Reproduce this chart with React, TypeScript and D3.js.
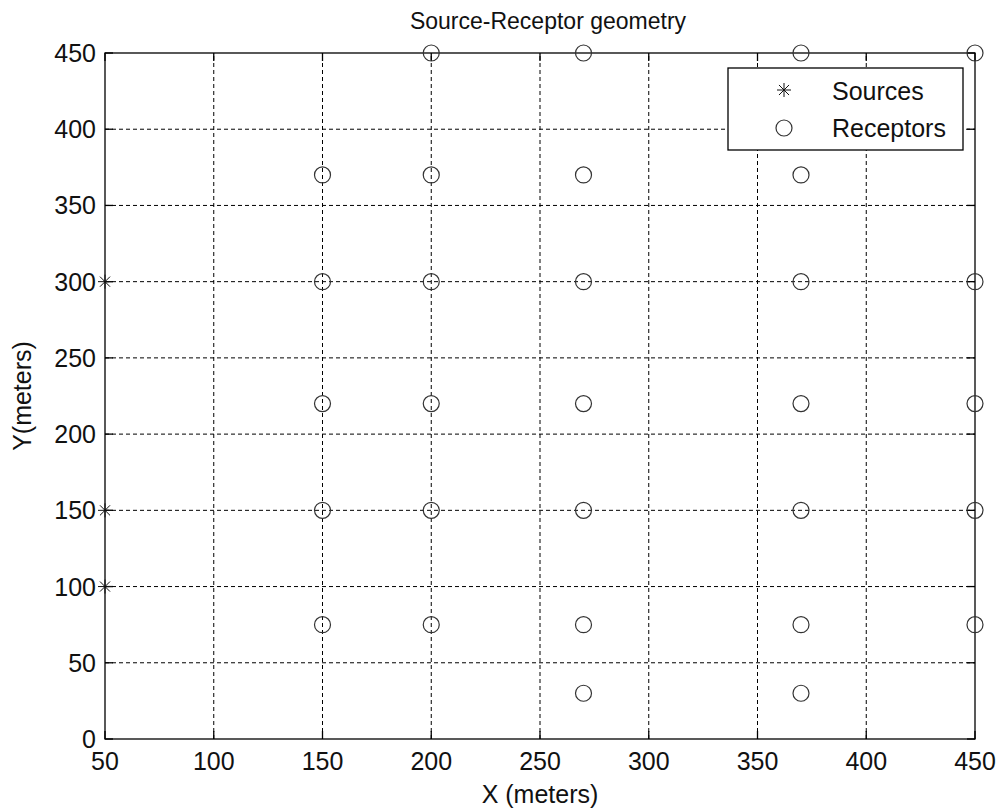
import React from 'react';
import * as d3 from 'd3';

// source positions (meters)
const sourceX = [50, 50, 50];
const sourceY = [300, 150, 100];

// receptor positions (meters)
const receptorX = [
  200, 270, 370, 450,
  150, 200, 270, 370,
  150, 200, 270, 370, 450,
  150, 200, 270, 370, 450,
  150, 200, 270, 370, 450,
  150, 200, 270, 370, 450,
  270, 370,
];
const receptorY = [
  450, 450, 450, 450,
  370, 370, 370, 370,
  300, 300, 300, 300, 300,
  220, 220, 220, 220, 220,
  150, 150, 150, 150, 150,
  75, 75, 75, 75, 75,
  30, 30,
];

const xTicks = [50, 100, 150, 200, 250, 300, 350, 400, 450];
const yTicks = [0, 50, 100, 150, 200, 250, 300, 350, 400, 450];

const W = 997;
const H = 810;
const margin = {left: 105, right: 22, top: 53, bottom: 71};
const FONT = 'Arial, "Liberation Sans", sans-serif';

function Star({x, y, r}: {x: number, y: number, r: number}) {
  const d = r * 0.72;
  return (
    <g stroke="#111" strokeWidth={1}>
      <line x1={x - r} y1={y} x2={x + r} y2={y} />
      <line x1={x} y1={y - r} x2={x} y2={y + r} />
      <line x1={x - d} y1={y - d} x2={x + d} y2={y + d} />
      <line x1={x - d} y1={y + d} x2={x + d} y2={y - d} />
    </g>
  );
}

export default function App() {
  const x = d3.scaleLinear().domain([50, 450]).range([margin.left, W - margin.right]);
  const y = d3.scaleLinear().domain([0, 450]).range([H - margin.bottom, margin.top]);
  const [x0, x1] = x.range();
  const [y0, y1] = y.range();
  const tick = 8;

  return (
    <svg width={W} height={H} style={{position: 'absolute', left: 0, top: 0, background: '#fff'}}
      fontFamily={FONT}>
      {/* grid */}
      <g stroke="#000" strokeWidth={1} strokeDasharray="4,3">
        {xTicks.slice(1, -1).map(t => (
          <line key={'gx' + t} x1={x(t)} x2={x(t)} y1={y0} y2={y1} />
        ))}
        {yTicks.slice(1, -1).map(t => (
          <line key={'gy' + t} x1={x0} x2={x1} y1={y(t)} y2={y(t)} />
        ))}
      </g>
      {/* axes box + ticks */}
      <rect x={x0} y={y1} width={x1 - x0} height={y0 - y1} fill="none" stroke="#000" strokeWidth={1.3} />
      <g stroke="#000" strokeWidth={1.3}>
        {xTicks.map(t => (
          <g key={'tx' + t}>
            <line x1={x(t)} x2={x(t)} y1={y0} y2={y0 - tick} />
            <line x1={x(t)} x2={x(t)} y1={y1} y2={y1 + tick} />
          </g>
        ))}
        {yTicks.map(t => (
          <g key={'ty' + t}>
            <line x1={x0} x2={x0 + tick} y1={y(t)} y2={y(t)} />
            <line x1={x1} x2={x1 - tick} y1={y(t)} y2={y(t)} />
          </g>
        ))}
      </g>
      {/* tick labels */}
      <g fontSize={25} fill="#111">
        {xTicks.map(t => (
          <text key={'lx' + t} x={x(t)} y={y0 + 31} textAnchor="middle">{t}</text>
        ))}
        {yTicks.map(t => (
          <text key={'ly' + t} x={x0 - 9} y={y(t) + 9} textAnchor="end">{t}</text>
        ))}
      </g>
      {/* receptors */}
      <g fill="none" stroke="#333" strokeWidth={1.2}>
        {receptorX.map((rx, i) => (
          <circle key={'r' + i} cx={x(rx)} cy={y(receptorY[i])} r={8} />
        ))}
      </g>
      {/* sources */}
      {sourceX.map((sx, i) => (
        <Star key={'s' + i} x={x(sx)} y={y(sourceY[i])} r={7} />
      ))}
      {/* titles */}
      <text x={(x0 + x1) / 2 + 8} y={29} textAnchor="middle" fontSize={23} fill="#111">Source-Receptor geometry</text>
      <text x={(x0 + x1) / 2} y={803} textAnchor="middle" fontSize={25} fill="#111">X (meters)</text>
      <text transform={`translate(31,${(y0 + y1) / 2}) rotate(-90)`} textAnchor="middle" fontSize={25} fill="#111">Y(meters)</text>
      {/* legend */}
      <g>
        <rect x={728} y={68} width={235} height={82} fill="#fff" stroke="#000" strokeWidth={1.3} />
        <Star x={784} y={90} r={7} />
        <circle cx={784} cy={128} r={8} fill="none" stroke="#333" strokeWidth={1.2} />
        <text x={832} y={100} fontSize={25} fill="#111">Sources</text>
        <text x={832} y={137} fontSize={25} fill="#111">Receptors</text>
      </g>
    </svg>
  );
}
